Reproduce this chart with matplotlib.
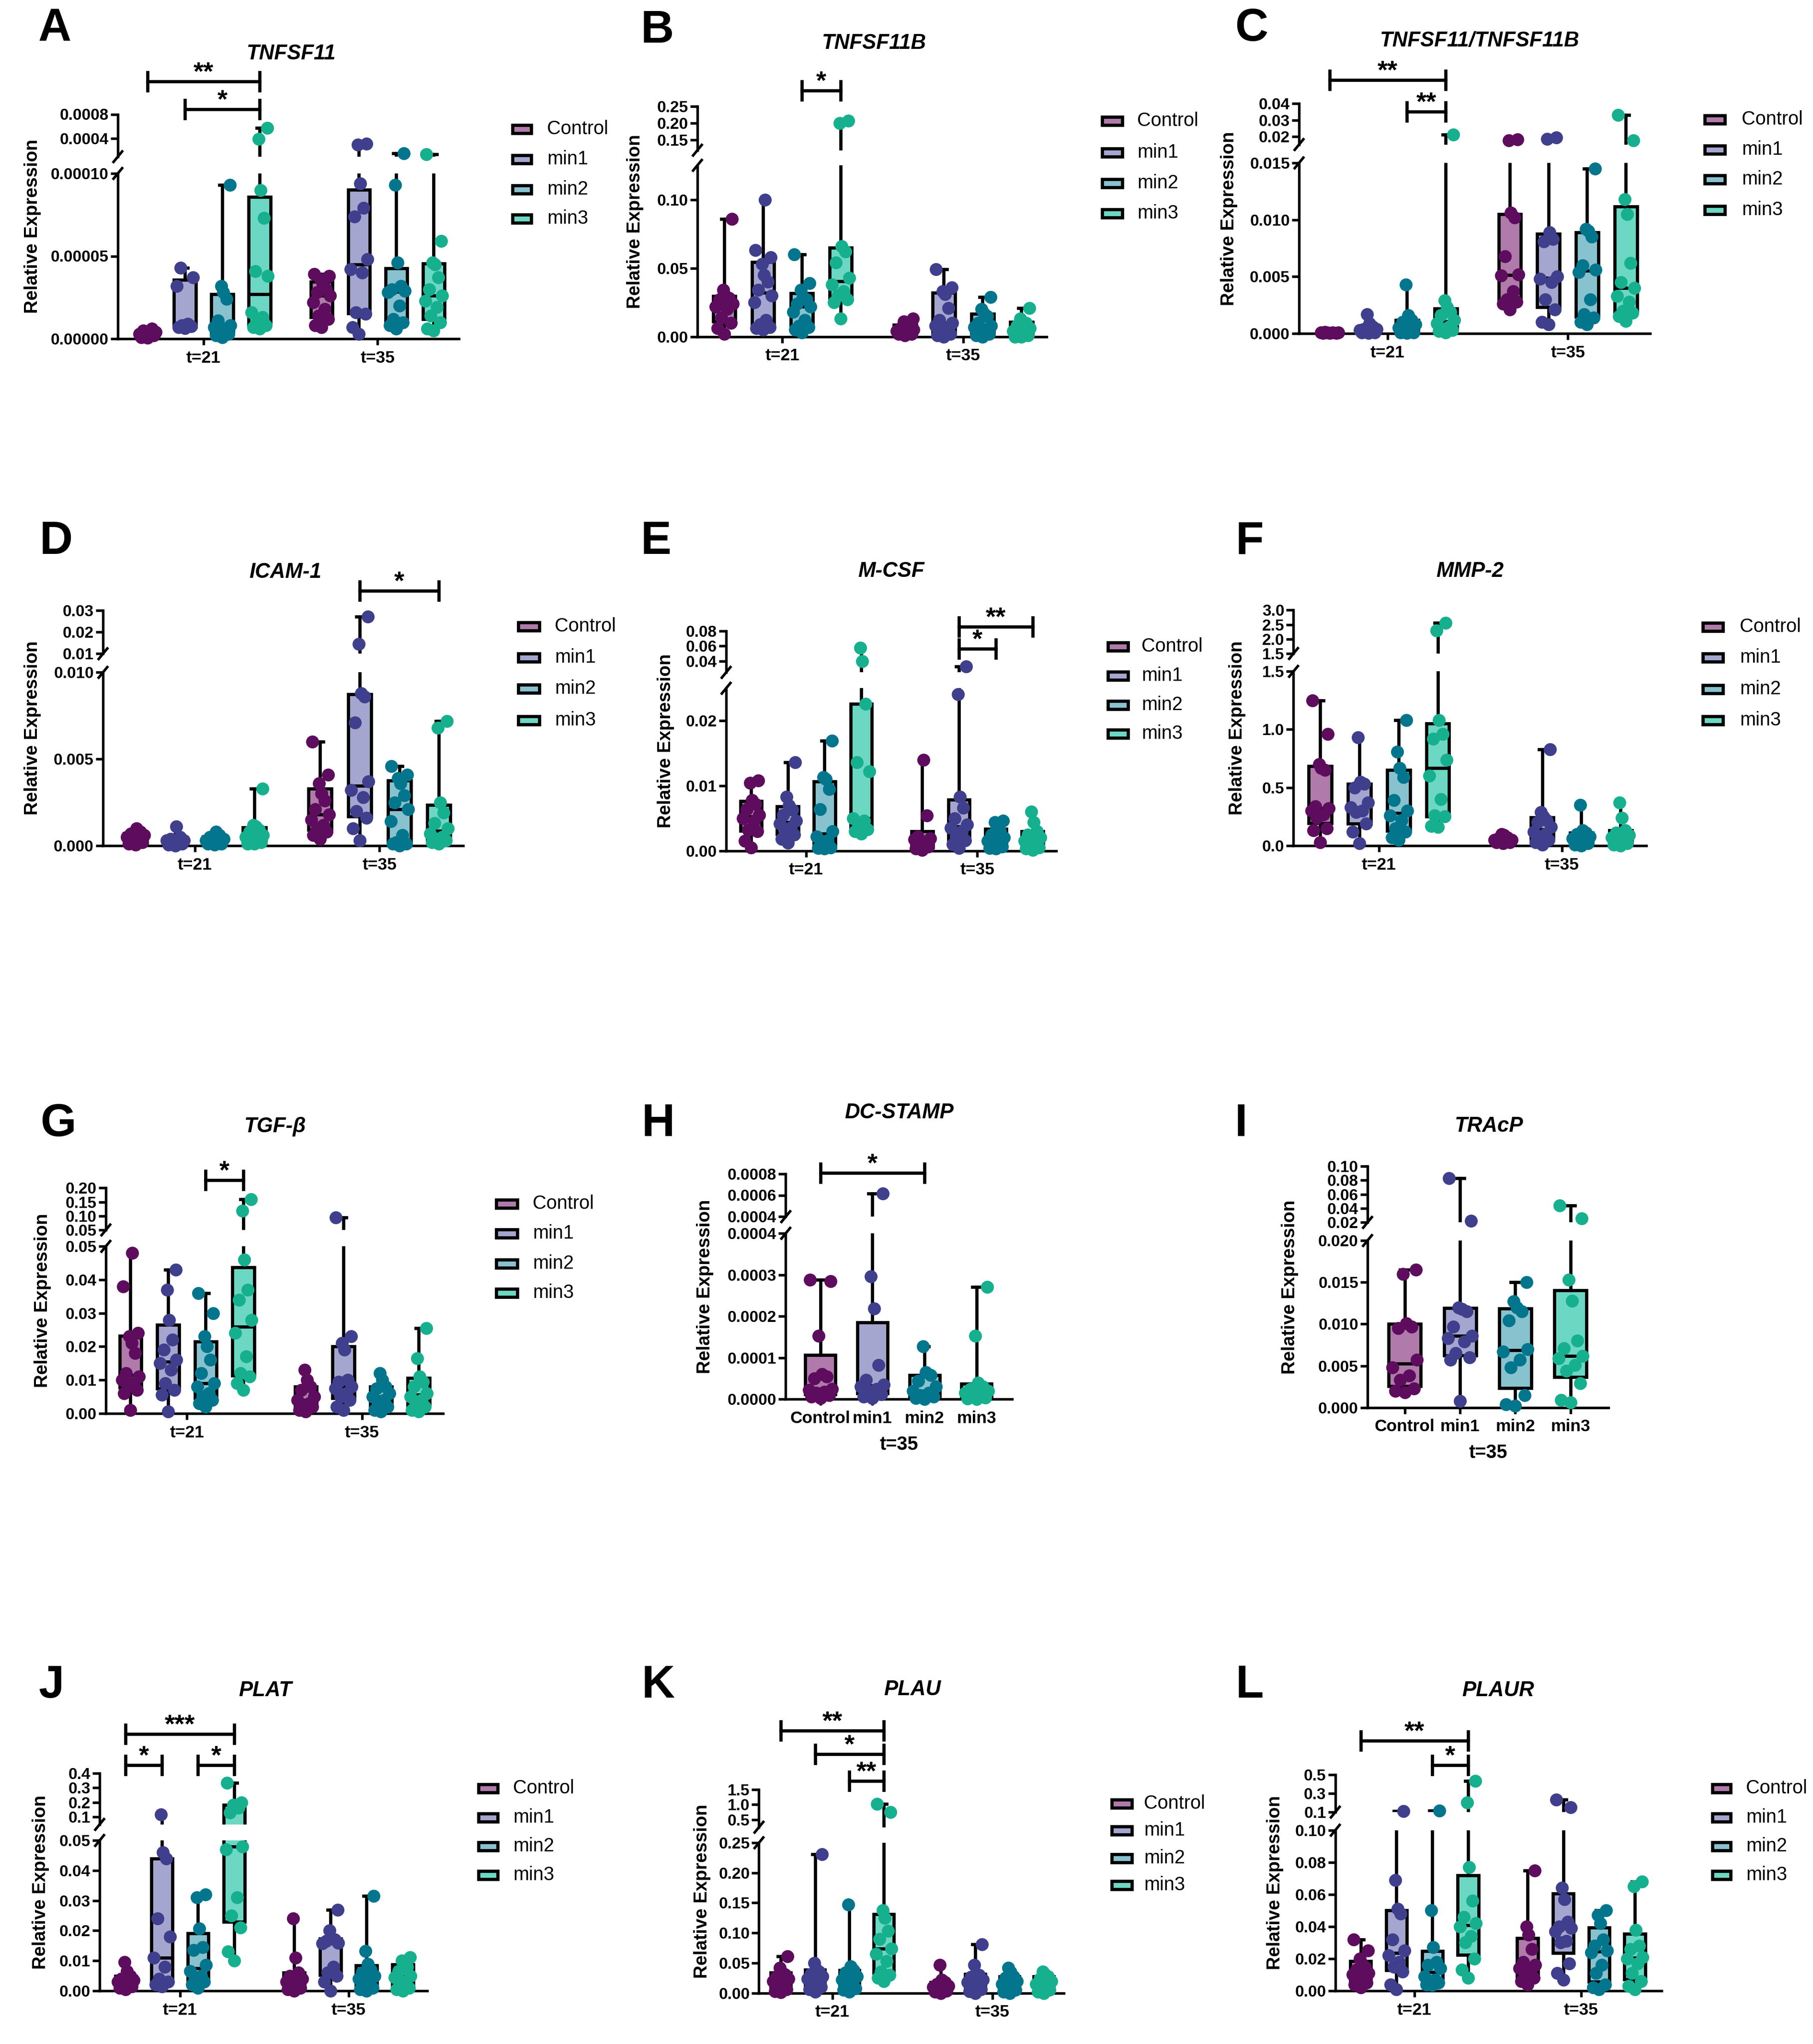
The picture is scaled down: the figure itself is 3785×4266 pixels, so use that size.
import numpy as np
import matplotlib

matplotlib.use("Agg")

import matplotlib.pyplot as plt
from matplotlib.patches import Rectangle
from matplotlib.transforms import blended_transform_factory

plt.rcParams["font.family"] = ["Liberation Sans", "DejaVu Sans"]

W, H, DPI = 3786, 4266, 300

GROUPS = ["Control", "min1", "min2", "min3"]
TIMES = ["t=21", "t=35"]
POINT_COLORS = ["#5e0c5e", "#3f3f8d", "#03768d", "#16b08f"]
BOX_COLORS = ["#b07aaa", "#a5a6cf", "#88c2cf", "#6cd8c3"]
E5 = 1e-5

# ---------------- data ----------------
# A  TNFSF11 (x1e-5)
tnfsf11_t21 = [
    [0.05, 0.1, 0.2, 0.3, 0.4, 0.5, 0.6, 0.3, 0.2],
    [4.3, 3.7, 3.2, 0.9, 0.8, 0.75, 0.7, 0.65],
    [9.3, 3.2, 2.8, 2.4, 1.1, 0.8, 0.7, 0.6, 0.4, 0.3, 0.2, 0.1],
    [57.6, 39, 9.0, 7.3, 4.1, 3.8, 1.6, 1.3, 1.0, 0.8, 0.7, 0.6],
]
tnfsf11_t35 = [
    [3.9, 3.8, 3.6, 3.3, 3.0, 2.8, 2.6, 2.2, 1.8, 1.4, 1.2, 0.8, 0.7],
    [31, 30, 9.4, 7.9, 7.4, 4.8, 4.2, 4.0, 1.6, 1.5, 0.7, 0.3],
    [15.5, 9.3, 4.6, 3.2, 3.0, 2.9, 2.8, 2.0, 1.2, 1.0, 0.8, 0.6],
    [14, 5.9, 4.6, 4.5, 3.7, 3.0, 2.6, 2.3, 1.9, 1.4, 1.0, 0.6, 0.5],
]
# B  TNFSF11B
tnfsf11b_t21 = [
    [0.086, 0.034, 0.030, 0.028, 0.027, 0.024, 0.022, 0.020, 0.014, 0.010, 0.006, 0.002],
    [0.100, 0.063, 0.058, 0.053, 0.045, 0.040, 0.034, 0.030, 0.025, 0.012, 0.009, 0.007, 0.006, 0.005],
    [0.060, 0.039, 0.034, 0.029, 0.027, 0.024, 0.022, 0.018, 0.012, 0.008, 0.007, 0.005, 0.003],
    [0.207, 0.200, 0.066, 0.062, 0.054, 0.043, 0.038, 0.033, 0.030, 0.027, 0.025, 0.013],
]
tnfsf11b_t35 = [
    [0.013, 0.011, 0.009, 0.008, 0.006, 0.005, 0.004, 0.003, 0.003, 0.002, 0.002, 0.001],
    [0.049, 0.036, 0.033, 0.031, 0.021, 0.012, 0.010, 0.008, 0.006, 0.004, 0.002, 0.001, 0.000],
    [0.029, 0.020, 0.017, 0.015, 0.010, 0.008, 0.007, 0.005, 0.004, 0.002, 0.001, 0.000],
    [0.021, 0.013, 0.011, 0.010, 0.008, 0.006, 0.004, 0.003, 0.002, 0.001, 0.000, 0.000],
]
# C  TNFSF11/TNFSF11B
ratio_t21 = [
    [0.0001, 0.0001, 0.00008, 0.00006, 0.00005, 0.00004, 0.0001, 0.00012],
    [0.0017, 0.0009, 0.0006, 0.0004, 0.0003, 0.0002, 0.0001, 0.0001, 0.00005, 0.0002, 0.0004],
    [0.0043, 0.0016, 0.0012, 0.0010, 0.0008, 0.0005, 0.0003, 0.0002, 0.0001, 0.0001, 0.00005],
    [0.021, 0.0029, 0.0023, 0.0019, 0.0016, 0.0012, 0.0009, 0.0006, 0.0004, 0.0003, 0.0002, 0.0001],
]
ratio_t35 = [
    [0.0180, 0.0175, 0.0106, 0.0102, 0.0068, 0.0052, 0.0051, 0.0037, 0.0030, 0.0028, 0.0026, 0.0021],
    [0.0193, 0.0185, 0.0089, 0.0083, 0.0081, 0.0050, 0.0048, 0.0045, 0.0030, 0.0021, 0.0010, 0.0008],
    [0.0145, 0.0092, 0.0090, 0.0085, 0.0060, 0.0056, 0.0054, 0.0030, 0.0017, 0.0014, 0.0010, 0.0008],
    [0.0330, 0.0175, 0.0118, 0.0105, 0.0062, 0.0045, 0.0040, 0.0033, 0.0028, 0.0020, 0.0018, 0.0015, 0.0011],
]
# D  ICAM-1
icam1_t21 = [
    [0.0010, 0.0008, 0.0007, 0.0006, 0.0005, 0.0004, 0.0003, 0.0002, 0.0001, 0.00005],
    [0.0011, 0.0005, 0.0004, 0.0003, 0.0003, 0.0002, 0.0001, 0.0001, 0.00005, 0.0],
    [0.0008, 0.0006, 0.0005, 0.0004, 0.0003, 0.0003, 0.0002, 0.0001, 0.0001, 0.00005],
    [0.0033, 0.0012, 0.0011, 0.0009, 0.0008, 0.0006, 0.0005, 0.0004, 0.0003, 0.0002, 0.0001, 0.0001],
]
icam1_t35 = [
    [0.0060, 0.0041, 0.0036, 0.0030, 0.0026, 0.0021, 0.0018, 0.0015, 0.0012, 0.0010, 0.0008, 0.0006, 0.0004],
    [0.027, 0.0145, 0.0088, 0.0086, 0.0071, 0.0037, 0.0032, 0.0028, 0.0020, 0.0016, 0.0010, 0.0003],
    [0.0046, 0.0041, 0.0039, 0.0036, 0.0029, 0.0025, 0.0021, 0.0014, 0.0006, 0.0002, 0.0001, 0.0001, 0.0000],
    [0.0072, 0.0068, 0.0025, 0.0019, 0.0013, 0.0010, 0.0007, 0.0005, 0.0004, 0.0003, 0.0002, 0.0001],
]
# E  M-CSF
mcsf_t21 = [
    [0.0108, 0.0104, 0.0078, 0.0072, 0.0064, 0.0055, 0.0050, 0.0045, 0.0032, 0.0030, 0.0015, 0.0005],
    [0.0136, 0.0083, 0.0070, 0.0063, 0.0055, 0.0046, 0.0042, 0.0036, 0.0028, 0.0025, 0.0018, 0.0012],
    [0.0169, 0.0113, 0.0110, 0.0095, 0.0064, 0.0030, 0.0022, 0.0016, 0.0012, 0.0005, 0.0004, 0.0003],
    [0.058, 0.040, 0.0226, 0.0136, 0.0122, 0.0050, 0.0046, 0.0040, 0.0033, 0.0030, 0.0026],
]
mcsf_t35 = [
    [0.0140, 0.0054, 0.0022, 0.0019, 0.0017, 0.0014, 0.0010, 0.0006, 0.0003, 0.0001],
    [0.033, 0.0241, 0.0083, 0.0066, 0.0050, 0.0040, 0.0035, 0.0030, 0.0022, 0.0016, 0.0010, 0.0004],
    [0.0046, 0.0044, 0.0035, 0.0030, 0.0025, 0.0020, 0.0015, 0.0012, 0.0010, 0.0006, 0.0004, 0.0003],
    [0.0060, 0.0044, 0.0030, 0.0025, 0.0020, 0.0015, 0.0012, 0.0008, 0.0005, 0.0003, 0.0001],
]
# F  MMP-2
mmp2_t21 = [
    [1.25, 0.96, 0.70, 0.67, 0.65, 0.34, 0.32, 0.30, 0.27, 0.24, 0.15, 0.13, 0.03],
    [0.93, 0.55, 0.53, 0.50, 0.37, 0.33, 0.30, 0.29, 0.19, 0.12, 0.02],
    [1.08, 0.81, 0.67, 0.59, 0.39, 0.30, 0.26, 0.22, 0.15, 0.12, 0.07, 0.05],
    [2.56, 2.30, 1.08, 0.96, 0.92, 0.74, 0.60, 0.40, 0.26, 0.25, 0.17, 0.16],
]
mmp2_t35 = [
    [0.10, 0.09, 0.07, 0.06, 0.05, 0.05, 0.04, 0.04, 0.03, 0.03, 0.02],
    [0.83, 0.29, 0.25, 0.22, 0.20, 0.16, 0.12, 0.10, 0.08, 0.05, 0.03, 0.01],
    [0.35, 0.13, 0.11, 0.10, 0.08, 0.06, 0.05, 0.03, 0.02, 0.01, 0.0],
    [0.37, 0.24, 0.13, 0.11, 0.09, 0.07, 0.05, 0.03, 0.02, 0.01, 0.0],
]
# G  TGF-beta
tgfb_t21 = [
    [0.048, 0.038, 0.024, 0.023, 0.021, 0.018, 0.012, 0.011, 0.010, 0.009, 0.008, 0.007, 0.006, 0.001],
    [0.043, 0.037, 0.028, 0.022, 0.019, 0.016, 0.015, 0.013, 0.009, 0.007, 0.0055, 0.0006],
    [0.036, 0.030, 0.023, 0.020, 0.016, 0.012, 0.009, 0.008, 0.006, 0.005, 0.004, 0.003, 0.002],
    [0.160, 0.119, 0.046, 0.037, 0.034, 0.028, 0.024, 0.017, 0.012, 0.011, 0.009, 0.007],
]
tgfb_t35 = [
    [0.013, 0.010, 0.008, 0.007, 0.005, 0.004, 0.003, 0.002, 0.002, 0.001, 0.0005],
    [0.095, 0.023, 0.021, 0.019, 0.010, 0.0095, 0.008, 0.0075, 0.006, 0.005, 0.004, 0.002, 0.001],
    [0.012, 0.010, 0.008, 0.0075, 0.006, 0.005, 0.004, 0.003, 0.002, 0.001, 0.0005],
    [0.0255, 0.0165, 0.011, 0.0095, 0.008, 0.006, 0.005, 0.004, 0.003, 0.002, 0.001, 0.0005],
]
# H  DC-STAMP, t=35 only (x1e-5)
dcstamp_t35 = [
    [28.8, 28.4, 15.3, 6.0, 5.5, 5.0, 2.5, 2.2, 1.8, 1.5, 1.0, 0.6, 0.3],
    [61.7, 29.6, 21.9, 8.2, 4.7, 3.5, 3.0, 2.5, 2.0, 1.2, 0.6, 0.3],
    [12.8, 6.5, 5.8, 4.4, 3.0, 2.0, 1.5, 1.0, 0.6, 0.3, 0.1],
    [27.1, 15.3, 4.0, 3.0, 2.5, 2.0, 1.5, 1.0, 0.6, 0.4, 0.2, 0.1],
]
# I  TRAcP, t=35 only
tracp_t35 = [
    [0.0165, 0.0160, 0.0101, 0.0097, 0.0095, 0.0057, 0.0048, 0.0038, 0.0033, 0.0023, 0.0020, 0.0018],
    [0.083, 0.0225, 0.0120, 0.0118, 0.0115, 0.0097, 0.0086, 0.0083, 0.0079, 0.0065, 0.0060, 0.0057, 0.0008],
    [0.0150, 0.0127, 0.0120, 0.0115, 0.0104, 0.0070, 0.0067, 0.0057, 0.0048, 0.0015, 0.0004, 0.0002],
    [0.044, 0.0254, 0.0153, 0.0128, 0.0080, 0.0071, 0.0062, 0.0059, 0.0051, 0.0044, 0.0029, 0.0009, 0.0006],
]
# J  PLAT
plat_t21 = [
    [0.0095, 0.0065, 0.0050, 0.0040, 0.0035, 0.0030, 0.0025, 0.0020, 0.0015, 0.0010, 0.0005],
    [0.117, 0.046, 0.044, 0.024, 0.018, 0.011, 0.008, 0.004, 0.003, 0.002, 0.0015],
    [0.032, 0.031, 0.0207, 0.0145, 0.0135, 0.0086, 0.0065, 0.0050, 0.0040, 0.0030, 0.0020, 0.0010],
    [0.335, 0.200, 0.185, 0.180, 0.165, 0.130, 0.048, 0.047, 0.031, 0.025, 0.021, 0.013, 0.010],
]
plat_t35 = [
    [0.024, 0.011, 0.006, 0.005, 0.004, 0.003, 0.002, 0.0015, 0.001, 0.0005, 0.0],
    [0.027, 0.020, 0.0175, 0.017, 0.0165, 0.016, 0.0158, 0.008, 0.006, 0.005, 0.003, 0.0],
    [0.0315, 0.0132, 0.0090, 0.0070, 0.0060, 0.0050, 0.0040, 0.0030, 0.0020, 0.0010, 0.0005, 0.0],
    [0.0112, 0.0100, 0.0090, 0.0080, 0.0065, 0.0050, 0.0045, 0.0030, 0.0020, 0.0010, 0.0005, 0.0],
]
# K  PLAU
plau_t21 = [
    [0.061, 0.042, 0.035, 0.031, 0.028, 0.024, 0.020, 0.015, 0.010, 0.006, 0.003, 0.001],
    [0.231, 0.050, 0.040, 0.036, 0.032, 0.028, 0.024, 0.020, 0.015, 0.010, 0.006, 0.002],
    [0.147, 0.044, 0.038, 0.034, 0.028, 0.022, 0.018, 0.012, 0.008, 0.005, 0.002],
    [1.02, 0.75, 0.138, 0.125, 0.103, 0.090, 0.074, 0.065, 0.053, 0.036, 0.030, 0.025, 0.020],
]
plau_t35 = [
    [0.047, 0.022, 0.018, 0.015, 0.012, 0.010, 0.008, 0.006, 0.004, 0.002, 0.0],
    [0.081, 0.047, 0.032, 0.030, 0.027, 0.022, 0.018, 0.014, 0.010, 0.006, 0.003, 0.0],
    [0.042, 0.035, 0.028, 0.025, 0.020, 0.015, 0.012, 0.008, 0.005, 0.002, 0.0],
    [0.036, 0.032, 0.028, 0.024, 0.020, 0.015, 0.012, 0.008, 0.005, 0.002, 0.0],
]
# L  PLAUR
plaur_t21 = [
    [0.032, 0.025, 0.020, 0.017, 0.015, 0.013, 0.011, 0.010, 0.008, 0.006, 0.005, 0.004, 0.002],
    [0.108, 0.069, 0.051, 0.048, 0.032, 0.025, 0.022, 0.018, 0.015, 0.012, 0.004, 0.001],
    [0.113, 0.050, 0.027, 0.018, 0.016, 0.014, 0.009, 0.007, 0.006, 0.005, 0.004, 0.0035],
    [0.433, 0.200, 0.077, 0.056, 0.046, 0.042, 0.040, 0.034, 0.030, 0.020, 0.013, 0.008],
]
plaur_t35 = [
    [0.075, 0.040, 0.035, 0.026, 0.018, 0.016, 0.014, 0.012, 0.011, 0.008, 0.006, 0.004],
    [0.233, 0.153, 0.064, 0.057, 0.043, 0.040, 0.039, 0.037, 0.031, 0.030, 0.017, 0.011, 0.007],
    [0.050, 0.047, 0.042, 0.032, 0.028, 0.025, 0.024, 0.016, 0.011, 0.004, 0.002, 0.001],
    [0.068, 0.065, 0.038, 0.028, 0.026, 0.021, 0.020, 0.017, 0.011, 0.006, 0.003, 0.001],
]


def scaled(groups, factor):
    return [[v * factor for v in g] for g in groups]


POS2 = [0, 1, 2, 3, 4.66, 5.66, 6.66, 7.66]
POS1 = [0, 1, 2, 3]

# layout in output pixels: x=(axis left, axis right), g=(first group px, group step px),
# y=(zero, lower top, upper bottom, upper top)
PANELS = [
    dict(letter="A", title="TNFSF11", data=scaled(tnfsf11_t21 + tnfsf11_t35, E5),
         x=(246, 958), g=(308, 78.0), y=(707, 362, 327, 238.5),
         low=(1e-4, [0, 5e-5, 1e-4], ["0.00000", "0.00005", "0.00010"]),
         up=(1e-4, 8e-4, [4e-4, 8e-4], ["0.0004", "0.0008"]),
         ylab_x=68, title_xy=(608, 113), letter_xy=(114, 60),
         legend=(1067, 1112, 1142, [269, 332, 395, 456]),
         brackets=[(0, 3, "**", 170), (1, 3, "*", 228)]),
    dict(letter="B", title="TNFSF11B", data=tnfsf11b_t21 + tnfsf11b_t35,
         x=(1456, 2185), g=(1512, 81.0), y=(702.6, 345, 313.5, 221.5),
         low=(0.125, [0, 0.05, 0.10], ["0.00", "0.05", "0.10"]),
         up=(0.12, 0.25, [0.15, 0.20, 0.25], ["0.15", "0.20", "0.25"]),
         ylab_x=1326, title_xy=(1825, 91), letter_xy=(1372, 64),
         legend=(2298, 2346, 2374, [252, 318, 382, 445]),
         brackets=[(2, 3, "*", 189)]),
    dict(letter="C", title="TNFSF11/TNFSF11B", data=ratio_t21 + ratio_t35,
         x=(2712, 3445), g=(2776, 80.7), y=(696, 340, 301.7, 216.4),
         low=(0.015, [0, 0.005, 0.010, 0.015], ["0.000", "0.005", "0.010", "0.015"]),
         up=(0.015, 0.04, [0.02, 0.03, 0.04], ["0.02", "0.03", "0.04"]),
         ylab_x=2566, title_xy=(3089, 85), letter_xy=(2613, 60),
         legend=(3556, 3604, 3636, [249, 312, 374, 438]),
         brackets=[(0, 3, "**", 167), (2, 3, "**", 233)]),
    dict(letter="D", title="ICAM-1", data=icam1_t21 + icam1_t35,
         x=(215, 967), g=(283, 82.7), y=(1765, 1403.3, 1364.4, 1273.5),
         low=(0.010, [0, 0.005, 0.010], ["0.000", "0.005", "0.010"]),
         up=(0.010, 0.03, [0.01, 0.02, 0.03], ["0.01", "0.02", "0.03"]),
         ylab_x=68, title_xy=(596, 1195), letter_xy=(117, 1131),
         legend=(1079, 1129, 1158, [1307, 1372, 1437, 1503]),
         brackets=[(5, 7, "*", 1233)]),
    dict(letter="E", title="M-CSF", data=mcsf_t21 + mcsf_t35,
         x=(1516, 2205), g=(1568, 76.7), y=(1775.5, 1436.4, 1403.3, 1317),
         low=(0.025, [0, 0.01, 0.02], ["0.00", "0.01", "0.02"]),
         up=(0.025, 0.08, [0.04, 0.06, 0.08], ["0.04", "0.06", "0.08"]),
         ylab_x=1390, title_xy=(1861, 1192), letter_xy=(1370, 1131),
         legend=(2310, 2358, 2383, [1349, 1410, 1471, 1531]),
         brackets=[(5, 7, "**", 1307.6), (5, 6, "*", 1354)]),
    dict(letter="F", title="MMP-2", data=mmp2_t21 + mmp2_t35,
         x=(2700.5, 3437.5), g=(2756, 81.9), y=(1765, 1401.2, 1363.9, 1273.4),
         low=(1.5, [0, 0.5, 1.0, 1.5], ["0.0", "0.5", "1.0", "1.5"]),
         up=(1.5, 3.0, [1.5, 2.0, 2.5, 3.0], ["1.5", "2.0", "2.5", "3.0"]),
         ylab_x=2583, title_xy=(3069, 1192), letter_xy=(2609, 1131),
         legend=(3552, 3600, 3632, [1308, 1372, 1438, 1503]),
         brackets=[]),
    dict(letter="G", title="TGF-β", data=tgfb_t21 + tgfb_t35,
         x=(221, 925), g=(272.5, 78.5), y=(2949.8, 2601.2, 2567, 2479.3),
         low=(0.05, [0, 0.01, 0.02, 0.03, 0.04, 0.05], ["0.00", "0.01", "0.02", "0.03", "0.04", "0.05"]),
         up=(0.05, 0.20, [0.05, 0.10, 0.15, 0.20], ["0.05", "0.10", "0.15", "0.20"]),
         ylab_x=89, title_xy=(575, 2351), letter_xy=(121, 2346),
         legend=(1033, 1083, 1112, [2512, 2574, 2637, 2698]),
         brackets=[(2, 3, "*", 2463)]),
    dict(letter="H", title="DC-STAMP", data=scaled(dcstamp_t35, E5),
         x=(1640.5, 2113), g=(1712.7, 108.7), y=(2920.4, 2573.9, 2539.2, 2449.8),
         low=(4e-4, [0, 1e-4, 2e-4, 3e-4, 4e-4], ["0.0000", "0.0001", "0.0002", "0.0003", "0.0004"]),
         up=(4e-4, 8e-4, [4e-4, 6e-4, 8e-4], ["0.0004", "0.0006", "0.0008"]),
         ylab_x=1472, title_xy=(1877, 2323), letter_xy=(1374, 2346),
         legend=None, brackets=[(0, 2, "*", 2447.7)]),
    dict(letter="I", title="TRAcP", data=tracp_t35,
         x=(2855, 3358), g=(2932.7, 115.4), y=(2937.7, 2589.1, 2551.3, 2434),
         low=(0.020, [0, 0.005, 0.010, 0.015, 0.020], ["0.000", "0.005", "0.010", "0.015", "0.020"]),
         up=(0.02, 0.10, [0.02, 0.04, 0.06, 0.08, 0.10], ["0.02", "0.04", "0.06", "0.08", "0.10"]),
         ylab_x=2693, title_xy=(3109, 2351), letter_xy=(2591, 2346),
         legend=None, brackets=[]),
    dict(letter="J", title="PLAT", data=plat_t21 + plat_t35,
         x=(208, 892), g=(262.5, 75.5), y=(4155, 3841.2, 3807.7, 3701),
         low=(0.05, [0, 0.01, 0.02, 0.03, 0.04, 0.05], ["0.00", "0.01", "0.02", "0.03", "0.04", "0.05"]),
         up=(0.05, 0.4, [0.1, 0.2, 0.3, 0.4], ["0.1", "0.2", "0.3", "0.4"]),
         ylab_x=85, title_xy=(554, 3528), letter_xy=(107, 3518),
         legend=(996, 1042, 1071, [3732, 3793, 3853, 3913]),
         brackets=[(0, 3, "***", 3619), (0, 1, "*", 3684), (2, 3, "*", 3684)]),
    dict(letter="K", title="PLAU", data=plau_t21 + plau_t35,
         x=(1584.5, 2221.5), g=(1630, 71.7), y=(4159.7, 3846, 3813.5, 3735),
         low=(0.25, [0, 0.05, 0.10, 0.15, 0.20, 0.25], ["0.00", "0.05", "0.10", "0.15", "0.20", "0.25"]),
         up=(0.25, 1.5, [0.5, 1.0, 1.5], ["0.5", "1.0", "1.5"]),
         ylab_x=1466, title_xy=(1905, 3526), letter_xy=(1374, 3518),
         legend=(2318, 2366, 2388, [3764, 3820, 3878, 3934]),
         brackets=[(0, 3, "**", 3612), (1, 3, "*", 3661), (2, 3, "**", 3717)]),
    dict(letter="L", title="PLAUR", data=plaur_t21 + plaur_t35,
         x=(2787.7, 3469), g=(2840.8, 74.7), y=(4155, 3819.8, 3782, 3703.7),
         low=(0.10, [0, 0.02, 0.04, 0.06, 0.08, 0.10], ["0.00", "0.02", "0.04", "0.06", "0.08", "0.10"]),
         up=(0.1, 0.5, [0.1, 0.3, 0.5], ["0.1", "0.3", "0.5"]),
         ylab_x=2662, title_xy=(3128, 3529), letter_xy=(2609, 3518),
         legend=(3572, 3616, 3645, [3732, 3793, 3853, 3913]),
         brackets=[(0, 3, "**", 3633), (2, 3, "*", 3684)]),
]

JITTER = [0.0, -0.17, 0.17, -0.08, 0.08, -0.22, 0.22, -0.12, 0.12, 0.03, -0.03, 0.2, -0.2, 0.05]
LW_BOX = 1.6
LW_AX = 1.3
DOT = 42


def box_stats(vals, ymin, ymax):
    v = np.asarray(vals, float)
    q1, med, q3 = np.percentile(v, [25, 50, 75], method="weibull")
    st = dict(med=med, q1=q1, q3=q3, whislo=v.min(), whishi=v.max(), fliers=[])
    # push edges that fall outside this axis segment well away, so their
    # stroke width does not leak across the break
    span = ymax - ymin
    for k in ("med", "q1", "q3", "whislo", "whishi"):
        if st[k] < ymin:
            st[k] = ymin - span
        elif st[k] > ymax:
            st[k] = ymax + span
    return st


def jitter(vals):
    ranks = np.argsort(np.argsort(vals))
    return np.array([JITTER[r % len(JITTER)] for r in ranks])


def draw_box(ax, vals, pos, g):
    ymin, ymax = ax.get_ylim()
    ax.bxp([box_stats(vals, ymin, ymax)], positions=[pos], widths=0.58, capwidths=0.16,
           patch_artist=True, showfliers=False, manage_ticks=False,
           boxprops=dict(facecolor=BOX_COLORS[g], edgecolor="black", linewidth=LW_BOX),
           medianprops=dict(color="black", linewidth=LW_BOX),
           whiskerprops=dict(color="black", linewidth=LW_BOX),
           capprops=dict(color="black", linewidth=LW_BOX))


def fx(x):
    return x / W


def fy(y):
    return 1 - y / H


fig = plt.figure(figsize=(W / DPI, H / DPI), dpi=DPI, facecolor="white")
over = fig.add_axes([0, 0, 1, 1], zorder=10)
over.set_xlim(0, W)
over.set_ylim(H, 0)
over.set_autoscale_on(False)
over.axis("off")

for p in PANELS:
    x0, x1 = p["x"]
    g0, gstep = p["g"]
    zero, low_top, up_bot, up_top = p["y"]
    single = len(p["data"]) == 4
    positions = POS1 if single else POS2
    xlim = ((x0 - g0) / gstep, (x1 - g0) / gstep)

    ax_lo = fig.add_axes([fx(x0), fy(zero), fx(x1) - fx(x0), fy(low_top) - fy(zero)])
    ax_up = fig.add_axes([fx(x0), fy(up_bot), fx(x1) - fx(x0), fy(up_top) - fy(up_bot)])
    low_max, low_ticks, low_labels = p["low"]
    up_min, up_max, up_ticks, up_labels = p["up"]
    ax_lo.set_ylim(0, low_max)
    ax_up.set_ylim(up_min, up_max)

    for ax in (ax_lo, ax_up):
        ax.set_facecolor("none")
        ax.set_xlim(*xlim)
        for side in ("top", "right"):
            ax.spines[side].set_visible(False)
        for side in ("left", "bottom"):
            ax.spines[side].set_linewidth(LW_AX)

    for i, vals in enumerate(p["data"]):
        g = i % 4
        v = np.asarray(vals, float)
        draw_box(ax_lo, v, positions[i], g)
        draw_box(ax_up, v, positions[i], g)
        xs = positions[i] + jitter(v)
        lo = v <= low_max
        ax_lo.scatter(xs[lo], v[lo], s=DOT, color=POINT_COLORS[g], linewidths=0, zorder=4, clip_on=False)
        ax_up.scatter(xs[~lo], v[~lo], s=DOT, color=POINT_COLORS[g], linewidths=0, zorder=4, clip_on=False)

    ax_lo.set_yticks(low_ticks)
    ax_lo.set_yticklabels(low_labels, fontsize=8, fontweight="bold")
    ax_up.set_yticks(up_ticks)
    ax_up.set_yticklabels(up_labels, fontsize=8, fontweight="bold")
    ax_up.spines["bottom"].set_visible(False)
    ax_up.set_xticks([])
    for ax in (ax_lo, ax_up):
        ax.tick_params(axis="y", direction="out", length=3.6, width=LW_AX, pad=1)

    if single:
        ax_lo.set_xticks(positions)
        ax_lo.set_xticklabels(GROUPS, fontsize=8.5, fontweight="bold")
        ax_lo.set_xlabel("t=35", fontsize=9.5, fontweight="bold", labelpad=4.5)
    else:
        ax_lo.set_xticks([1.5, 6.16])
        ax_lo.set_xticklabels(TIMES, fontsize=8.5, fontweight="bold")
    ax_lo.tick_params(axis="x", direction="out", length=3.2, width=LW_AX, pad=2.5)

    # axis break marks
    for yy in (low_top, up_bot):
        over.plot([x0 - 9, x0 + 9], [yy + 11, yy - 11], color="black", lw=LW_AX)

    # labels
    over.text(p["ylab_x"], (up_top + zero) / 2, "Relative Expression", rotation=90,
              ha="center", va="center", fontsize=9.2, fontweight="bold")
    over.text(*p["title_xy"], p["title"], ha="center", va="center", fontsize=10.5,
              fontweight="bold", fontstyle="italic")
    over.text(*p["letter_xy"], p["letter"], ha="center", va="center", fontsize=23, fontweight="bold")

    # legend
    if p["legend"]:
        lx0, lx1, tx, rows = p["legend"]
        for g, yy in enumerate(rows):
            over.add_patch(Rectangle((lx0 + 3, yy - 8.5), lx1 - lx0 - 6, 17, facecolor=BOX_COLORS[g],
                                     edgecolor="black", linewidth=LW_BOX))
            over.text(tx, yy, GROUPS[g], ha="left", va="center", fontsize=9.5)

    # significance brackets
    tr = blended_transform_factory(ax_up.transData, over.transData)
    for ga, gb, stars, yb in p["brackets"]:
        xa, xb = positions[ga], positions[gb]
        over.plot([xa, xb], [yb, yb], transform=tr, color="black", lw=LW_BOX, clip_on=False)
        for xe in (xa, xb):
            over.plot([xe, xe], [yb - 19, yb + 19], transform=tr, color="black", lw=LW_BOX, clip_on=False)
        over.text((xa + xb) / 2, yb - 17, stars, transform=tr, ha="center", va="center",
                  fontsize=13, fontweight="bold")

fig.savefig("out.png", dpi=DPI)
